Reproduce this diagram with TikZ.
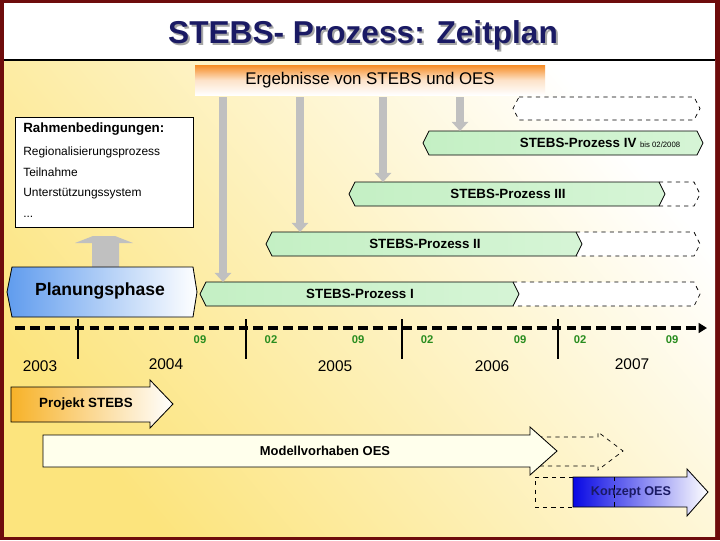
\documentclass[tikz,border=0pt]{standalone}
\usepackage{fontspec}
\setmainfont{Liberation Sans}
\usepackage{tikz}
\usetikzlibrary{arrows.meta}

\definecolor{frame}{RGB}{110,12,12}
\definecolor{navy}{RGB}{26,26,100}
\definecolor{bgyellow}{RGB}{252,228,125}
\definecolor{mint}{RGB}{196,240,196}
\definecolor{mintpale}{RGB}{240,252,238}
\definecolor{barblue}{RGB}{96,156,238}
\definecolor{deepblue}{RGB}{8,8,228}
\definecolor{barorange}{RGB}{246,140,36}
\definecolor{projorange}{RGB}{247,178,40}
\definecolor{monthgreen}{RGB}{40,140,30}
\definecolor{arrowgray}{RGB}{192,192,192}

\begin{document}
\begin{tikzpicture}[x=0.025cm, y=-0.025cm, >=Stealth,
  every node/.style={inner sep=0pt, font=\fontsize{9.5}{11}\selectfont\bfseries},
  plain/.style={font=\fontsize{8.5}{10}\selectfont},
  year/.style={font=\fontsize{11}{13}\selectfont},
  month/.style={font=\fontsize{8}{9}\selectfont\bfseries, text=monthgreen},
  greenbar/.style={draw, line width=0.6pt, left color=mint, middle color=mintpale,
    right color=mint!70!white},
  openbar/.style={draw, dashed, line width=0.5pt, fill=white},
  resultarrow/.style={draw=arrowgray, line width=5.6pt,
    -{Triangle[width=11.5pt, length=6.5pt]}}]

  \useasboundingbox (0,0) rectangle (720,540);
  % frame and background
  \fill[frame] (0,0) rectangle (720,540);
  \fill[white] (4,3) rectangle (715,60);
  \shade[top color=white, bottom color=bgyellow, shading angle=-50]
    (4,60) rectangle (715,536);
  \draw[line width=0.8pt] (4,60) -- (715,60);

  % title
  \node[text=black!35, font=\fontsize{22.5}{26}\selectfont\bfseries]
    (titleshadow) at (365,37) {STEBS- Prozess: Zeitplan};
  \node[text=navy, font=\fontsize{22.5}{26}\selectfont\bfseries]
    (title) at (363,35) {STEBS- Prozess: Zeitplan};

  % results banner
  \node[minimum width=350*0.025cm, minimum height=30*0.025cm,
    top color=barorange, bottom color=white, middle color=barorange!25!white,
    font=\fontsize{12}{14}\selectfont] (results) at (370,80)
    {Ergebnisse von STEBS und OES};

  % framework conditions
  \node[draw, line width=0.6pt, fill=white, minimum width=178*0.025cm,
    minimum height=110*0.025cm] (frame) at (104,172) {};
  \node[anchor=west, font=\fontsize{9.5}{11}\selectfont\bfseries]
    (rahmen) at (23,129) {Rahmenbedingungen:};
  \node[plain, anchor=west] (region) at (23,152) {Regionalisierungsprozess};
  \node[plain, anchor=west] (teil) at (23,172) {Teilnahme};
  \node[plain, anchor=west] (unter) at (23,194) {Unterstützungssystem};
  \node[plain, anchor=west] (dots) at (23,217) {...};

  % open planning slot
  \draw[openbar] (519,97) -- (694,97) -- (700,108.5) -- (694,120) -- (519,120)
    -- (513,108.5) -- cycle;

  % STEBS processes I to III with open continuation
  \foreach \n/\yt/\xl/\xr/\xa in {I/282/200/519/223, II/232/266/582/300,
    III/182/349/665/383} {
    \draw[openbar] (\xr-6,\yt) -- (694,\yt) -- (700,\yt+12) -- (694,\yt+24)
      -- (\xr-6,\yt+24);
    \draw[greenbar] (\xl+6,\yt) -- (\xr-6,\yt) -- (\xr,\yt+12) -- (\xr-6,\yt+24)
      -- (\xl+6,\yt+24) -- (\xl,\yt+12) -- cycle;
    \coordinate (top\n) at (\xa,\yt);
  }
  % STEBS process IV
  \draw[greenbar] (429,131) -- (697,131) -- (703,143) -- (697,155) -- (429,155)
    -- (423,143) -- cycle;
  \coordinate (topIV) at (460,131);

  \node (p1) at (360,294) {STEBS-Prozess I};
  \node (p2) at (425,244) {STEBS-Prozess II};
  \node (p3) at (508,194) {STEBS-Prozess III};
  \node[anchor=base] (p4) at (600,147)
    {STEBS-Prozess IV {\fontsize{5.5}{6}\selectfont\mdseries bis 02/2008}};

  % results feeding the processes
  \foreach \n in {I,II,III,IV}
    \draw[resultarrow] (results.south -| top\n) ++(0,2) -- (top\n);

  % planning phase
  \fill[arrowgray] (92,268) -- (92,243) -- (75,243) -- (93,236) -- (115,236)
    -- (133,243) -- (119,243) -- (119,268) -- cycle;
  \draw[line width=0.6pt, left color=barblue, right color=white]
    (12,267) -- (193,267) -- (197,292) -- (193,317) -- (12,317) -- (7,292) -- cycle;
  \node[font=\fontsize{12.5}{14}\selectfont\bfseries] (plan) at (100,291)
    {Planungsphase};

  % time axis
  \draw[line width=2.8pt, dash pattern=on 7pt off 3.6pt,
    -{Triangle[width=7pt, length=6pt]}] (15,328) -- (707,328);
  \foreach \x in {78,246,402,558}
    \draw[line width=2pt] (\x,319) -- (\x,359);
  \foreach \x/\m in {200/09, 271/02, 358/09, 427/02, 520/09, 580/02, 672/09}
    \node[month] (m\x) at (\x,340) {\m};
  \foreach \x/\y/\yr in {40/366/2003, 166/364/2004, 335/366/2005, 492/366/2006,
    632/364/2007}
    \node[year] (y\yr) at (\x,\y) {\yr};

  % projects
  \draw[line width=0.6pt, left color=projorange, right color=white]
    (11,387) -- (150,387) -- (150,380) -- (173,404) -- (150,428) -- (150,422)
    -- (11,422) -- cycle;
  \node (projekt) at (86,404) {Projekt STEBS};

  \draw[dashed, line width=0.5pt] (530,437) -- (598,437) -- (598,432)
    -- (623,451) -- (598,470) -- (598,466) -- (530,466);
  \draw[line width=0.6pt, fill={rgb,255:red,255;green,255;blue,236}]
    (43,435) -- (530,435) -- (530,427) -- (557,451) -- (530,475) -- (530,467)
    -- (43,467) -- cycle;
  \node[font=\fontsize{9.2}{11}\selectfont\bfseries] (modell) at (325,451)
    {Modellvorhaben OES};

  \draw[dashed, line width=0.5pt] (573,477) -- (535,477) -- (535,507) -- (573,507);
  \draw[line width=0.6pt, left color=deepblue, right color=white]
    (573,477) -- (687,477) -- (687,469) -- (708,492) -- (687,516) -- (687,507)
    -- (573,507) -- cycle;
  \draw[dashed, line width=0.5pt] (614,477) -- (614,507);
  \node[text=navy, font=\fontsize{9}{11}\selectfont\bfseries] (konzept)
    at (631,492) {Konzept OES};
\end{tikzpicture}
\end{document}
